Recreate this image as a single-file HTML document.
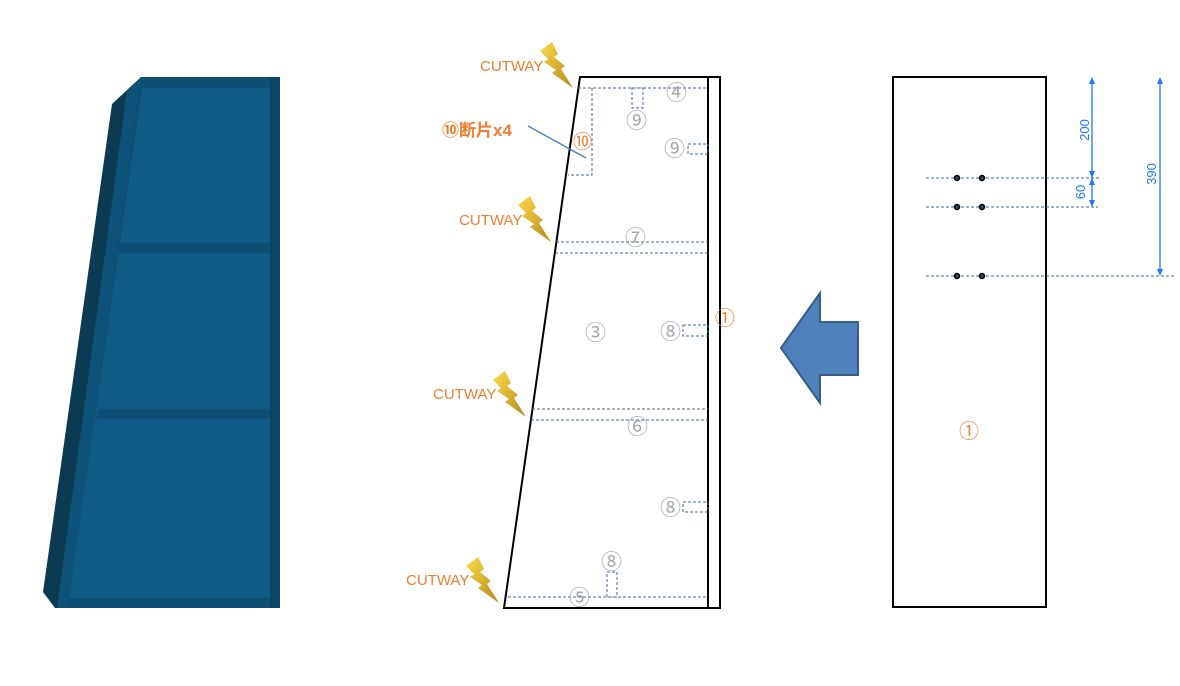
<!DOCTYPE html>
<html><head><meta charset="utf-8"><style>
html,body{margin:0;padding:0;background:#fff;}
svg{display:block;font-family:"Liberation Sans","Noto Sans CJK JP",sans-serif;}
.g{fill:#a6a6a6;font-size:21px;}
.d{stroke:#44689a;stroke-width:1;stroke-dasharray:3,2;fill:none;}
.cw{fill:#ed7d31;font-size:15px;}
</style></head><body>
<svg width="1180" height="686" viewBox="0 0 1180 686">
<defs>
<linearGradient id="lg" x1="0" y1="0" x2="1" y2="1"><stop offset="0" stop-color="#ffd94a"/><stop offset="1" stop-color="#b08a1a"/></linearGradient>
<polygon id="bolt" points="0,9 12,0 18,12 14,15 25,24 21,27 33,46 12,31 16,28 4,20 8,17"/>
</defs>
<!-- blue cabinet -->
<polygon points="141,77 280,77 280,608 55,608 43,592 112,104" fill="#0b3a52"/>
<polygon points="127,91 141,77 280,77 280,608 57,608" fill="#0d5378"/>
<polygon points="141,77 280,77 280,608 68,608" fill="#0c4f73"/>
<polygon points="142,88 270,88 270,598 69,598" fill="#0e5b85"/>
<rect x="270" y="77" width="10" height="531" fill="#0a4563"/>
<polygon points="120,243 270,243 270,253 118,253" fill="#0c4f73"/>
<polygon points="98,409 270,409 270,419 97,419" fill="#0c4f73"/>
<!-- middle -->
<polygon points="580,77 720,77 720,608 504,608" fill="#fff" stroke="#000" stroke-width="2"/>
<line x1="708" y1="77" x2="708" y2="608" stroke="#000" stroke-width="2"/>
<line x1="578" y1="88" x2="708" y2="88" class="d"/>
<line x1="556" y1="242" x2="708" y2="242" class="d"/>
<line x1="555" y1="253" x2="708" y2="253" class="d"/>
<line x1="532" y1="409" x2="708" y2="409" class="d"/>
<line x1="531" y1="420" x2="708" y2="420" class="d"/>
<line x1="508" y1="597" x2="708" y2="597" class="d"/>
<polyline points="592,88 592,175 568,175" class="d"/>
<rect x="632" y="88" width="11" height="20" class="d"/>
<rect x="688" y="144" width="20" height="10" class="d"/>
<rect x="683" y="325" width="25" height="11" class="d"/>
<rect x="683" y="502" width="25" height="10" class="d"/>
<rect x="607" y="572" width="10" height="25" class="d"/>
<line x1="528" y1="126" x2="586" y2="158" stroke="#4a7ebb" stroke-width="1.3"/>
<text x="666" y="100" class="g">④</text>
<text x="626" y="128" class="g">⑨</text>
<text x="664" y="156" class="g">⑨</text>
<text x="625" y="245" class="g">⑦</text>
<text x="585" y="340" class="g">③</text>
<text x="660" y="339" class="g">⑧</text>
<text x="627" y="434" class="g">⑥</text>
<text x="660" y="515" class="g">⑧</text>
<text x="601" y="569" class="g">⑧</text>
<text x="569" y="605" class="g">⑤</text>
<text x="573" y="148" fill="#ed7d31" font-size="19">⑩</text>
<text x="442" y="136" fill="#ed7d31" font-size="17" font-weight="bold">⑩断片x4</text>
<text x="715" y="325" fill="#ed7d31" font-size="20">①</text>
<text x="480" y="71" class="cw">CUTWAY</text>
<text x="459" y="225" class="cw">CUTWAY</text>
<text x="433" y="399" class="cw">CUTWAY</text>
<text x="406" y="585" class="cw">CUTWAY</text>
<use href="#bolt" x="540" y="42" fill="url(#lg)"/>
<use href="#bolt" x="518" y="196" fill="url(#lg)"/>
<use href="#bolt" x="493" y="371" fill="url(#lg)"/>
<use href="#bolt" x="466" y="557" fill="url(#lg)"/>
<!-- arrow -->
<polygon points="781,348 820,293 820,322 858,322 858,375 820,375 820,403" fill="#4f81bd" stroke="#385d8a" stroke-width="2"/>
<!-- right -->
<rect x="893" y="77" width="153" height="530" fill="#fff" stroke="#000" stroke-width="2"/>
<line x1="926" y1="178" x2="1100" y2="178" class="d" stroke-dasharray="2,1.5"/>
<line x1="926" y1="207" x2="1098" y2="207" class="d" stroke-dasharray="2,1.5"/>
<line x1="926" y1="276" x2="1175" y2="276" class="d" stroke-dasharray="2,1.5"/>
<g fill="#444" stroke="#000" stroke-width="1.5">
<circle cx="957" cy="178" r="2.5"/><circle cx="982" cy="178" r="2.5"/>
<circle cx="957" cy="207" r="2.5"/><circle cx="982" cy="207" r="2.5"/>
<circle cx="957" cy="276" r="2.5"/><circle cx="982" cy="276" r="2.5"/>
</g>
<g stroke="#1f77ff" stroke-width="1.3" fill="#1f77ff">
<line x1="1092" y1="80" x2="1092" y2="205"/>
<line x1="1160" y1="80" x2="1160" y2="274"/>
<polygon points="1092,77 1089,84 1095,84" stroke="none"/>
<polygon points="1092,178 1089,171 1095,171" stroke="none"/>
<polygon points="1092,178 1089,185 1095,185" stroke="none"/>
<polygon points="1092,207 1089,200 1095,200" stroke="none"/>
<polygon points="1160,77 1157,84 1163,84" stroke="none"/>
<polygon points="1160,276 1157,269 1163,269" stroke="none"/>
</g>
<g fill="#1f77ff" font-size="13">
<text transform="translate(1089,130) rotate(-90)" text-anchor="middle">200</text>
<text transform="translate(1085,192) rotate(-90)" text-anchor="middle">60</text>
<text transform="translate(1156,174) rotate(-90)" text-anchor="middle">390</text>
</g>
<text x="959" y="438" fill="#ed7d31" font-size="20">①</text>
</svg>
</body></html>
